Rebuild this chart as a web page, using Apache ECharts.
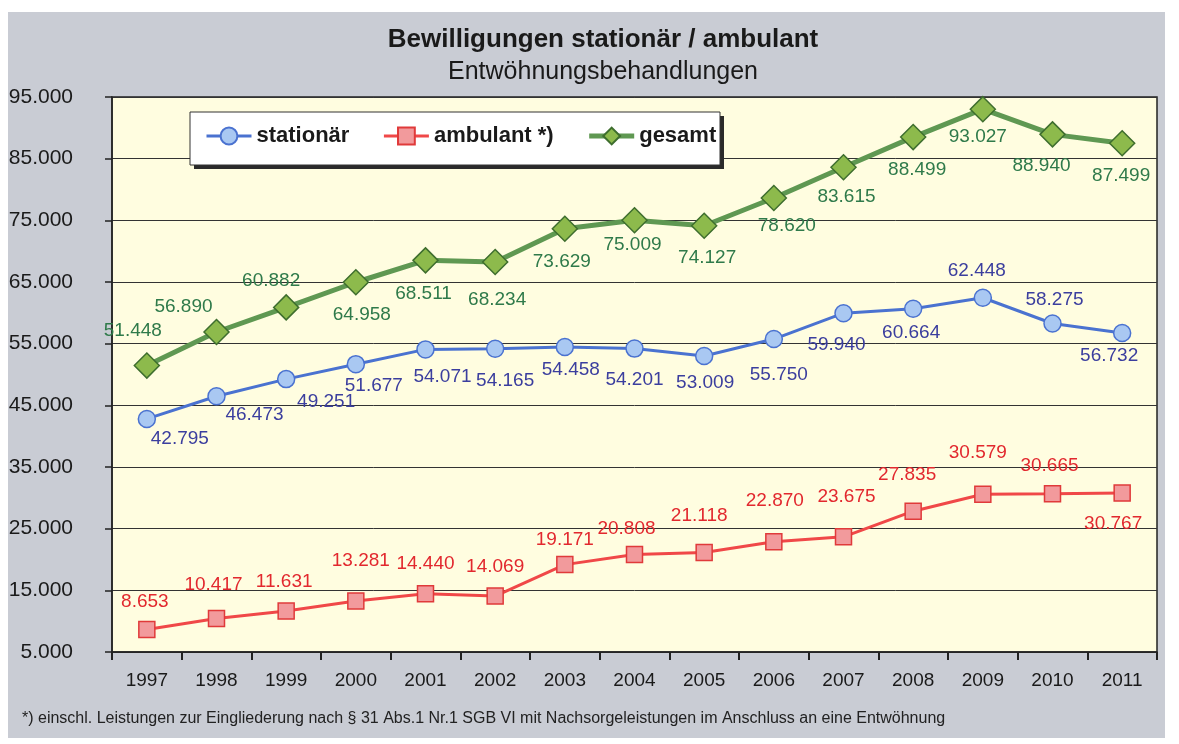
<!DOCTYPE html>
<html>
<head>
<meta charset="utf-8">
<script src="https://cdn.jsdelivr.net/npm/echarts@6/dist/echarts.min.js"></script>
<style>
    html, body { margin: 0; padding: 0; background: #fff; }
    #chart { width: 1179px; height: 744px; }
</style>
</head>
<body>
<div id="chart"></div>
<script>
// Jahre und Werte
const years = ['1997', '1998', '1999', '2000', '2001', '2002', '2003', '2004', '2005', '2006', '2007', '2008', '2009', '2010', '2011']
const stationaer = [42795, 46473, 49251, 51677, 54071, 54165, 54458, 54201, 53009, 55750, 59940, 60664, 62448, 58275, 56732]
const ambulant = [8653, 10417, 11631, 13281, 14440, 14069, 19171, 20808, 21118, 22870, 23675, 27835, 30579, 30665, 30767]
const gesamt = [51448, 56890, 60882, 64958, 68511, 68234, 73629, 75009, 74127, 78620, 83615, 88499, 93027, 88940, 87499]

// Verschiebung der Wertbeschriftungen (relativ zum Punkt)
const stationaerLabelOffset = [[33, 20], [38, 19], [40, 23], [18, 22], [17, 27], [10, 32], [6, 23], [0, 31], [1, 27], [5, 36], [-7, 32], [-2, 24], [-6, -27], [2, -24], [-13, 23]]
const ambulantLabelOffset = [[-2, -28], [-3, -34], [-2, -29], [5, -40], [0, -30], [0, -29], [0, -25], [-8, -26], [-5, -37], [1, -41], [3, -40], [-6, -36], [-5, -41], [-3, -28], [-9, 31]]
const gesamtLabelOffset = [[-14, -35], [-33, -25], [-15, -27], [6, 33], [-2, 33], [2, 38], [-3, 33], [-2, 24], [3, 32], [13, 28], [3, 30], [4, 33], [-5, 28], [-11, 31], [-1, 33]]

const fontFamily = '"Liberation Sans", Arial, sans-serif'
const fmt = v => String(v).replace(/\B(?=(\d{3})+(?!\d))/g, '.')

const makeSeries = (name, values, offsets, cfg) => ({
    name,
    type: 'line',
    symbol: cfg.symbol,
    symbolSize: cfg.symbolSize,
    z: cfg.z,
    lineStyle: { color: cfg.line, width: cfg.lineWidth },
    itemStyle: { color: cfg.fill, borderColor: cfg.border, borderWidth: 1.5 },
    label: {
        show: true,
        position: 'inside',
        color: cfg.labelColor,
        fontSize: 19,
        fontFamily,
        formatter: p => fmt(p.value)
    },
    emphasis: { disabled: true },
    data: values.map((v, i) => ({ value: v, label: { offset: offsets[i] } }))
})

const chart = echarts.init(document.getElementById('chart'))
chart.setOption({
    animation: false,
    backgroundColor: '#ffffff',
    graphic: [
        {
            type: 'rect',
            z: -10,
            shape: { x: 8, y: 12, width: 1157, height: 726 },
            style: { fill: '#C9CCD4' }
        },
        // Legendenkasten mit Schatten
        {
            type: 'rect',
            z: 3,
            shape: { x: 194, y: 116, width: 530, height: 53 },
            style: { fill: '#2a2a2a' }
        },
        {
            type: 'rect',
            z: 3,
            shape: { x: 190, y: 112, width: 530, height: 53 },
            style: { fill: '#ffffff', stroke: '#333', lineWidth: 1 }
        },
        {
            type: 'text',
            left: 22,
            top: 711,
            style: {
                text: '*) einschl. Leistungen zur Eingliederung nach § 31 Abs.1 Nr.1 SGB VI mit Nachsorgeleistungen im Anschluss an eine Entwöhnung',
                font: '16px ' + fontFamily,
                fill: '#222'
            }
        }
    ],
    title: {
        text: 'Bewilligungen stationär / ambulant',
        subtext: 'Entwöhnungsbehandlungen',
        left: 598,
        textAlign: 'center',
        top: 22,
        itemGap: 7,
        textStyle: { fontSize: 26, fontWeight: 'bold', color: '#1a1a1a', fontFamily },
        subtextStyle: { fontSize: 25, color: '#1a1a1a', fontFamily }
    },
    legend: {
        left: 205,
        top: 125,
        padding: 0,
        itemGap: 33,
        itemWidth: 45,
        itemHeight: 21,
        z: 5,
        lineStyle: { width: 3 },
        textStyle: { fontSize: 22, fontWeight: 'bold', color: '#1a1a1a', fontFamily },
        data: ['stationär', 'ambulant *)', { name: 'gesamt', lineStyle: { width: 5 } }]
    },
    grid: {
        left: 112,
        right: 22,
        top: 97,
        bottom: 92,
        show: true,
        backgroundColor: '#FFFDE0',
        borderColor: '#222',
        borderWidth: 1.5
    },
    xAxis: {
        type: 'category',
        data: years,
        boundaryGap: true,
        axisLine: { lineStyle: { color: '#222', width: 1.5 } },
        axisTick: { show: true, length: 8, lineStyle: { color: '#222', width: 2 } },
        axisLabel: { fontSize: 19, color: '#1a1a1a', margin: 19, fontFamily }
    },
    yAxis: {
        type: 'value',
        min: 5000,
        max: 95000,
        interval: 10000,
        axisLine: { show: true, lineStyle: { color: '#222', width: 1.5 } },
        axisTick: { show: true, length: 7, lineStyle: { color: '#222', width: 1.5 } },
        axisLabel: { fontSize: 21, color: '#1a1a1a', margin: 39, fontFamily, formatter: v => fmt(v) },
        splitLine: { show: true, lineStyle: { color: '#333', width: 1 } }
    },
    series: [
        makeSeries('stationär', stationaer, stationaerLabelOffset, {
            symbol: 'circle', symbolSize: 17, z: 3, line: '#4A72D0', lineWidth: 3,
            fill: '#A9C8F2', border: '#4A72D0', labelColor: '#3B3E9E'
        }),
        makeSeries('ambulant *)', ambulant, ambulantLabelOffset, {
            symbol: 'rect', symbolSize: 16, z: 3, line: '#F04848', lineWidth: 3,
            fill: '#F29A9C', border: '#E03A3A', labelColor: '#E2282E'
        }),
        makeSeries('gesamt', gesamt, gesamtLabelOffset, {
            symbol: 'diamond', symbolSize: 25, z: 4, line: '#5F9852', lineWidth: 5,
            fill: '#8DBA4C', border: '#3E6E2E', labelColor: '#2F7A4A'
        })
    ]
})
</script>
</body>
</html>
